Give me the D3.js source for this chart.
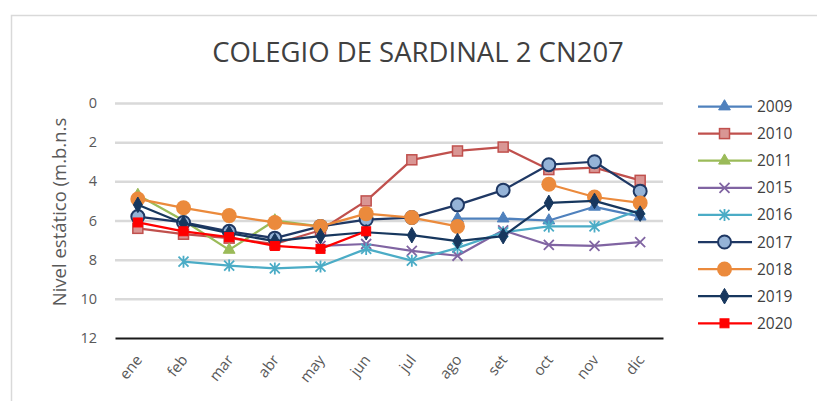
<!DOCTYPE html>
<html>
<head>
<meta charset="utf-8">
<script src="https://cdn.jsdelivr.net/npm/d3@7"></script>
<style>
  body { margin: 0; background: #fff; }
  text { font-family: "Open Sans", "Liberation Sans", sans-serif; }
</style>
</head>
<body>
<svg id="vis"></svg>
<script>
//DATOS--------------------------------------------------------------------------------------------
const MESES = ["ene", "feb", "mar", "abr", "may", "jun", "jul", "ago", "set", "oct", "nov", "dic"];
const TICKS_Y = [0, 2, 4, 6, 8, 10, 12];
const ANIOS = ["2009", "2010", "2011", "2015", "2016", "2017", "2018", "2019", "2020"];
const n2009 = [null, null, null, null, null, null, null, 5.9, 5.9, 6.0, 5.3, 5.8];
const n2010 = [6.4, 6.7, 6.9, 7.2, 6.5, 5.0, 2.9, 2.45, 2.25, 3.4, 3.3, 3.95];
const n2011 = [4.7, 6.0, 7.5, 6.0, 6.3, null, null, null, null, null, null, null];
const n2015 = [null, null, null, null, 7.3, 7.2, 7.55, 7.8, 6.5, 7.25, 7.3, 7.1];
const n2016 = [null, 8.1, 8.3, 8.45, 8.35, 7.45, 8.05, 7.4, 6.6, 6.3, 6.3, 5.45];
const n2017 = [5.8, 6.1, 6.55, 6.9, 6.3, 5.95, 5.85, 5.2, 4.45, 3.15, 3.0, 4.5];
const n2018 = [4.9, 5.35, 5.75, 6.1, 6.3, 5.65, 5.85, 6.3, null, 4.15, 4.8, 5.1];
const n2019 = [5.2, 6.15, 6.65, 7.05, 6.8, 6.6, 6.75, 7.05, 6.8, 5.1, 5.0, 5.65];
const n2020 = [6.1, 6.55, 6.85, 7.3, 7.45, 6.55, null, null, null, null, null, null];
const VALORES = [n2009, n2010, n2011, n2015, n2016, n2017, n2018, n2019, n2020];

//VARIABLES CONSTANTES-----------------------------------------------------------------------------
const WIDTH = 817;
const HEIGHT = 401;
const MARGIN = { top: 103, bottom: 63, left: 115, right: 154 };
const HEIGHTVIS = HEIGHT - MARGIN.top - MARGIN.bottom;
const WIDTHVIS = WIDTH - MARGIN.left - MARGIN.right;

// estilo de cada serie: color de linea, tipo de marcador, relleno
const ESTILOS = {
  "2009": { color: "#4F81BD", forma: "triangulo", relleno: "#4F81BD" },
  "2010": { color: "#C0504D", forma: "cuadrado", relleno: "#D99694" },
  "2011": { color: "#9BBB59", forma: "triangulo", relleno: "#9BBB59" },
  "2015": { color: "#8064A2", forma: "x", relleno: "none" },
  "2016": { color: "#4BACC6", forma: "estrella", relleno: "none" },
  "2017": { color: "#1F3864", forma: "circulo", relleno: "#95B3D7" },
  "2018": { color: "#EB8A3C", forma: "circulo2", relleno: "#EB8A3C" },
  "2019": { color: "#17375E", forma: "diamante", relleno: "#17375E" },
  "2020": { color: "#FF0000", forma: "cuadrado2", relleno: "#FF0000" },
};

const svg = d3.select("#vis").attr("width", WIDTH).attr("height", HEIGHT);

//FUNCIONES----------------------------------------------------------------------------------------
function dibujarMarcador(g, forma, color, relleno) {
  if (forma == "triangulo") {
    g.append("path").attr("d", d3.symbol(d3.symbolTriangle, 60)())
      .attr("fill", relleno).attr("stroke", color).attr("stroke-width", 1);
  } else if (forma == "cuadrado") {
    g.append("rect").attr("x", -5).attr("y", -5).attr("width", 10).attr("height", 10)
      .attr("fill", relleno).attr("stroke", color).attr("stroke-width", 1.5);
  } else if (forma == "cuadrado2") {
    g.append("rect").attr("x", -4.5).attr("y", -4.5).attr("width", 9).attr("height", 9)
      .attr("fill", relleno).attr("stroke", color).attr("stroke-width", 1);
  } else if (forma == "x") {
    g.append("path").attr("d", "M-5,-5L5,5M-5,5L5,-5")
      .attr("stroke", color).attr("stroke-width", 1.8).attr("fill", "none");
  } else if (forma == "estrella") {
    g.append("path").attr("d", "M-5,-5L5,5M-5,5L5,-5M0,-6L0,6")
      .attr("stroke", color).attr("stroke-width", 1.8).attr("fill", "none");
  } else if (forma == "circulo") {
    g.append("circle").attr("r", 6.5)
      .attr("fill", relleno).attr("stroke", color).attr("stroke-width", 2);
  } else if (forma == "circulo2") {
    g.append("circle").attr("r", 7.5).attr("fill", relleno).attr("stroke", "none");
  } else if (forma == "diamante") {
    g.append("path").attr("d", d3.symbol(d3.symbolDiamond, 70)())
      .attr("fill", relleno).attr("stroke", color).attr("stroke-width", 1);
  }
}

//BORDE Y TITULO-----------------------------------------------------------------------------------
svg.append("rect")
  .attr("x", 11.5).attr("y", 15.5)
  .attr("width", 900).attr("height", 500)
  .attr("fill", "white").attr("stroke", "#d9d9d9").attr("stroke-width", 1.5);

svg.append("text")
  .attr("x", 418).attr("y", 62)
  .attr("text-anchor", "middle")
  .attr("fill", "#404040")
  .style("font-size", "27.5px")
  .text("COLEGIO DE SARDINAL 2 CN207");

const contenedor = svg.append("g")
  .attr("transform", `translate(${MARGIN.left} ${MARGIN.top})`);

//ESCALAS------------------------------------------------------------------------------------------
const escalaX = d3.scaleBand().domain(MESES).range([0, WIDTHVIS]);
const escalaY = d3.scaleLinear().domain([0, 12]).range([0, HEIGHTVIS]);

//EJE Y (con lineas de grilla)---------------------------------------------------------------------
const ejeY = d3.axisLeft(escalaY).tickValues(TICKS_Y).tickSize(0).tickPadding(18);
const gY = contenedor.append("g").call(ejeY);
gY.select(".domain").remove();
gY.selectAll("text")
  .attr("fill", "#595959")
  .style("font-size", "14.5px");
gY.selectAll(".tick")
  .filter((d) => d < 12)
  .append("line")
  .attr("x1", 0).attr("x2", WIDTHVIS)
  .attr("stroke", "#d9d9d9").attr("stroke-width", 2.5);

svg.append("text")
  .attr("transform", "translate(66 212) rotate(-90)")
  .attr("text-anchor", "middle")
  .attr("fill", "#595959")
  .style("font-size", "18.5px")
  .text("Nivel estático (m.b.n.s");

//EJE X--------------------------------------------------------------------------------------------
const ejeX = d3.axisBottom(escalaX).tickSize(0);
const gX = contenedor.append("g")
  .attr("transform", `translate(0 ${HEIGHTVIS})`)
  .call(ejeX);
gX.select(".domain").attr("stroke", "#1a1a1a").attr("stroke-width", 2);
gX.selectAll("text")
  .attr("fill", "#595959")
  .style("font-size", "15px")
  .attr("text-anchor", "end")
  .attr("x", 0)
  .attr("y", 0)
  .attr("dy", 0)
  .attr("transform", "translate(5 22) rotate(-52)");

//SERIES-------------------------------------------------------------------------------------------
const linea = d3.line()
  .defined((d) => d != null)
  .x((d, i) => escalaX(MESES[i]) + escalaX.bandwidth() / 2)
  .y((d) => escalaY(d));

ANIOS.forEach((anio, k) => {
  const datos = VALORES[k];
  const est = ESTILOS[anio];
  const gs = contenedor.append("g");
  gs.append("path")
    .datum(datos)
    .attr("d", linea)
    .attr("fill", "none")
    .attr("stroke", est.color)
    .attr("stroke-width", 2.25)
    .attr("stroke-linejoin", "round");
  datos.forEach((v, i) => {
    if (v == null) return;
    const m = gs.append("g")
      .attr("transform", `translate(${escalaX(MESES[i]) + escalaX.bandwidth() / 2} ${escalaY(v)})`);
    dibujarMarcador(m, est.forma, est.color, est.relleno);
  });
});

//LEYENDA------------------------------------------------------------------------------------------
const leyenda = svg.append("g").attr("transform", "translate(698 106.5)");
ANIOS.forEach((anio, k) => {
  const est = ESTILOS[anio];
  const fila = leyenda.append("g").attr("transform", `translate(0 ${k * 27.1})`);
  fila.append("line")
    .attr("x1", 0).attr("x2", 54)
    .attr("stroke", est.color).attr("stroke-width", 2.25);
  const m = fila.append("g").attr("transform", "translate(26.5 0)");
  dibujarMarcador(m, est.forma, est.color, est.relleno);
  fila.append("text")
    .attr("x", 59).attr("y", 5.5)
    .attr("fill", "#404040")
    .style("font-size", "15.5px")
    .text(anio);
});
</script>
</body>
</html>
